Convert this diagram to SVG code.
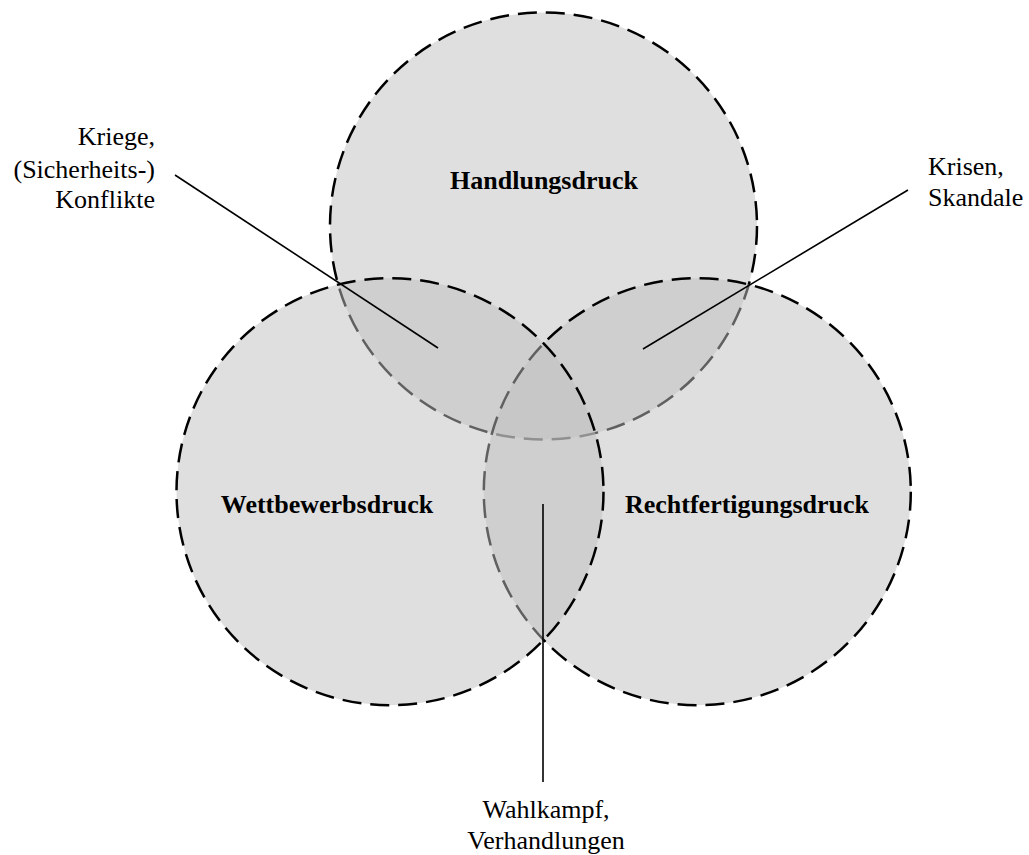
<svg xmlns="http://www.w3.org/2000/svg" width="1029" height="855" viewBox="0 0 1029 855">
<style>
.set{fill:#c0c0c0;fill-opacity:0.5;stroke:#000;stroke-width:2.5;stroke-dasharray:19 9}
.title{font-family:"Liberation Serif","Times New Roman",serif;font-size:26px;font-weight:bold;fill:#000;text-anchor:middle}
.lbl{font-family:"Liberation Serif","Times New Roman",serif;font-size:26px;fill:#000}
.conn{stroke:#000;stroke-width:1.6;fill:none}
</style>
<rect width="1029" height="855" fill="#fff"/>
<g id="handlungsdruck">
<circle class="set" cx="543.5" cy="226" r="213.5"/>
</g>
<g id="rechtfertigungsdruck">
<circle class="set" cx="697.3" cy="491.7" r="213.5"/>
</g>
<g id="wettbewerbsdruck">
<circle class="set" cx="390" cy="491.7" r="213.5"/>
</g>
<g id="titles">
<text class="title" x="544" y="189">Handlungsdruck</text>
<text class="title" x="327" y="513">Wettbewerbsdruck</text>
<text class="title" x="747" y="513">Rechtfertigungsdruck</text>
</g>
<g id="connectors">
<line class="conn" x1="175" y1="175" x2="438" y2="348"/>
<line class="conn" x1="908" y1="190" x2="643" y2="349"/>
<line class="conn" x1="543" y1="504" x2="543" y2="782"/>
</g>
<g id="label-kriege">
<text class="lbl" text-anchor="end"><tspan x="155" y="145">Kriege,</tspan><tspan x="155" y="178">(Sicherheits-)</tspan><tspan x="155" y="208">Konflikte</tspan></text>
</g>
<g id="label-krisen">
<text class="lbl" text-anchor="start"><tspan x="928" y="175">Krisen,</tspan><tspan x="928" y="206">Skandale</tspan></text>
</g>
<g id="label-wahlkampf">
<text class="lbl" text-anchor="middle"><tspan x="546" y="818">Wahlkampf,</tspan><tspan x="546" y="849">Verhandlungen</tspan></text>
</g>
</svg>
